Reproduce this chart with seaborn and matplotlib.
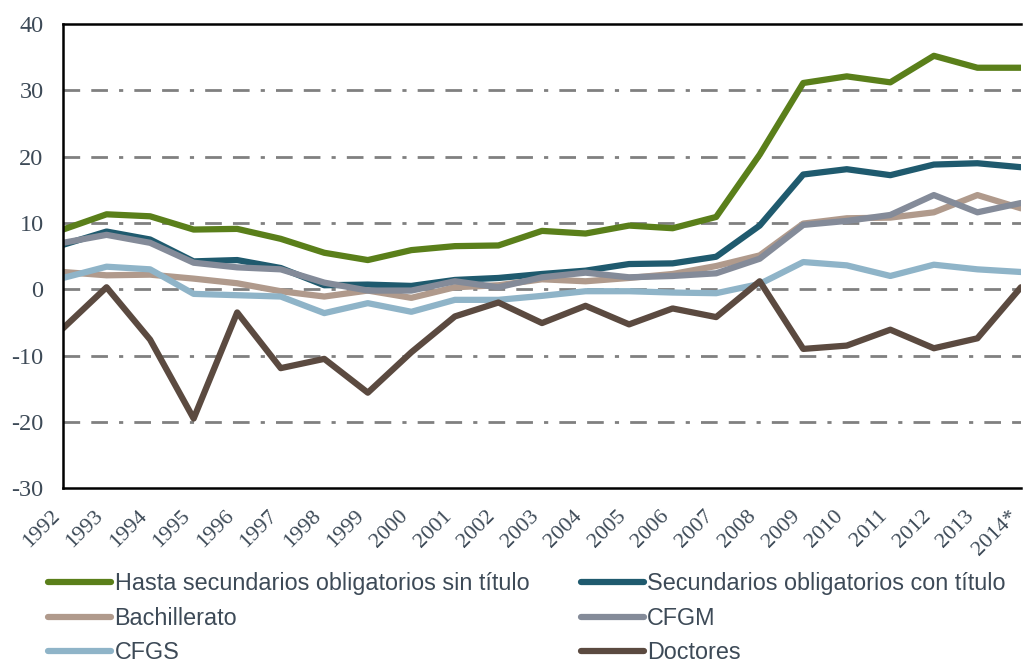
import pandas as pd
import matplotlib
matplotlib.use("Agg")
import matplotlib.pyplot as plt
import matplotlib.transforms as mtransforms
import seaborn as sns

years = ["1992", "1993", "1994", "1995", "1996", "1997", "1998", "1999", "2000",
         "2001", "2002", "2003", "2004", "2005", "2006", "2007", "2008", "2009",
         "2010", "2011", "2012", "2013", "2014*"]

hasta_sin_titulo = [9.0, 11.3, 11.0, 9.0, 9.1, 7.6, 5.5, 4.4, 5.9, 6.5, 6.6, 8.8,
                    8.4, 9.6, 9.2, 10.9, 20.3, 31.1, 32.1, 31.2, 35.2, 33.4, 33.4]
con_titulo = [6.7, 8.7, 7.5, 4.2, 4.4, 3.2, 0.6, 0.7, 0.5, 1.4, 1.7, 2.3,
              2.8, 3.8, 3.9, 4.9, 9.6, 17.3, 18.1, 17.2, 18.8, 19.0, 18.4]
bachillerato = [2.6, 2.1, 2.2, 1.6, 0.9, -0.3, -1.1, -0.2, -1.3, 0.3, 0.6, 1.5,
                1.2, 1.7, 2.3, 3.5, 5.1, 9.9, 10.7, 10.8, 11.6, 14.2, 12.2]
cfgm = [7.0, 8.2, 7.0, 4.0, 3.3, 3.0, 1.0, -0.2, -0.2, 1.2, 0.3, 1.8,
        2.5, 1.8, 2.0, 2.4, 4.6, 9.7, 10.3, 11.2, 14.2, 11.6, 13.0]
cfgs = [1.7, 3.4, 3.0, -0.7, -0.9, -1.1, -3.6, -2.1, -3.4, -1.6, -1.6, -1.0,
        -0.3, -0.3, -0.5, -0.6, 0.8, 4.1, 3.6, 2.0, 3.7, 3.0, 2.6]
doctores = [-5.9, 0.3, -7.6, -19.5, -3.5, -11.9, -10.5, -15.6, -9.5, -4.1, -2.0, -5.1,
            -2.5, -5.3, -2.9, -4.2, 1.2, -9.0, -8.5, -6.1, -8.9, -7.4, 0.3]

series = {
    "Hasta secundarios obligatorios sin título": hasta_sin_titulo,
    "Secundarios obligatorios con título": con_titulo,
    "Bachillerato": bachillerato,
    "CFGM": cfgm,
    "CFGS": cfgs,
    "Doctores": doctores,
}
colors = ["#5a7f1a", "#1f5a6e", "#b09a8c", "#848b99", "#8fb4c8", "#5b4a40"]

rows = []
for name, vals in series.items():
    for i, v in enumerate(vals):
        rows.append({"x": i, "valor": v, "serie": name})
df = pd.DataFrame(rows)

sns.set_style("white")
plt.rcParams["axes.unicode_minus"] = False
fig = plt.figure(figsize=(10.23, 6.66), dpi=100)
ax = fig.add_axes([0.0616, 0.267, 0.9364, 0.697])

sns.lineplot(data=df, x="x", y="valor", hue="serie", palette=colors,
             linewidth=4.5, ax=ax, legend=True)

ax.set_xlim(0, len(years) - 1)
ax.set_ylim(-30, 40)
ax.set_xlabel("")
ax.set_ylabel("")
ax.tick_params(axis="y", length=0, pad=14)
ax.tick_params(axis="x", length=0, pad=0)

ax.set_yticks(range(-30, 41, 10))
ax.set_yticklabels([str(v) for v in range(-30, 41, 10)], fontfamily="Liberation Serif",
                   fontsize=17.5, color="#3d4a57")
ax.set_xticks(range(len(years)))
ax.set_xticklabels(years, rotation=45, ha="right", va="center", rotation_mode="anchor",
                   fontfamily="Liberation Serif", fontsize=16, color="#3d4a57")
offset = mtransforms.ScaledTranslation(-0.06, -0.25, fig.dpi_scale_trans)
for t in ax.get_xticklabels():
    t.set_transform(t.get_transform() + offset)

for y in range(-20, 31, 10):
    ax.axhline(y, color="#808080", linewidth=2, linestyle=(0, (6, 4, 6, 4, 1.5, 4)), zorder=0)

for side in ["left", "top", "bottom"]:
    ax.spines[side].set_color("black")
    ax.spines[side].set_linewidth(1.8)
ax.spines["right"].set_visible(False)

handles, labels = ax.get_legend_handles_labels()
ax.legend_.remove()
order = [0, 2, 4, 1, 3, 5]
fig.legend([handles[i] for i in order], [labels[i] for i in order], ncol=2,
           loc="upper left", bbox_to_anchor=(0.047, 0.141), borderaxespad=0, borderpad=0,
           frameon=False, handlelength=2.7, handletextpad=0.15, columnspacing=2.2,
           labelspacing=0.5, prop={"family": "Liberation Sans", "size": 16.8},
           labelcolor="#3d4a57")

fig.savefig("out.png", dpi=100)
